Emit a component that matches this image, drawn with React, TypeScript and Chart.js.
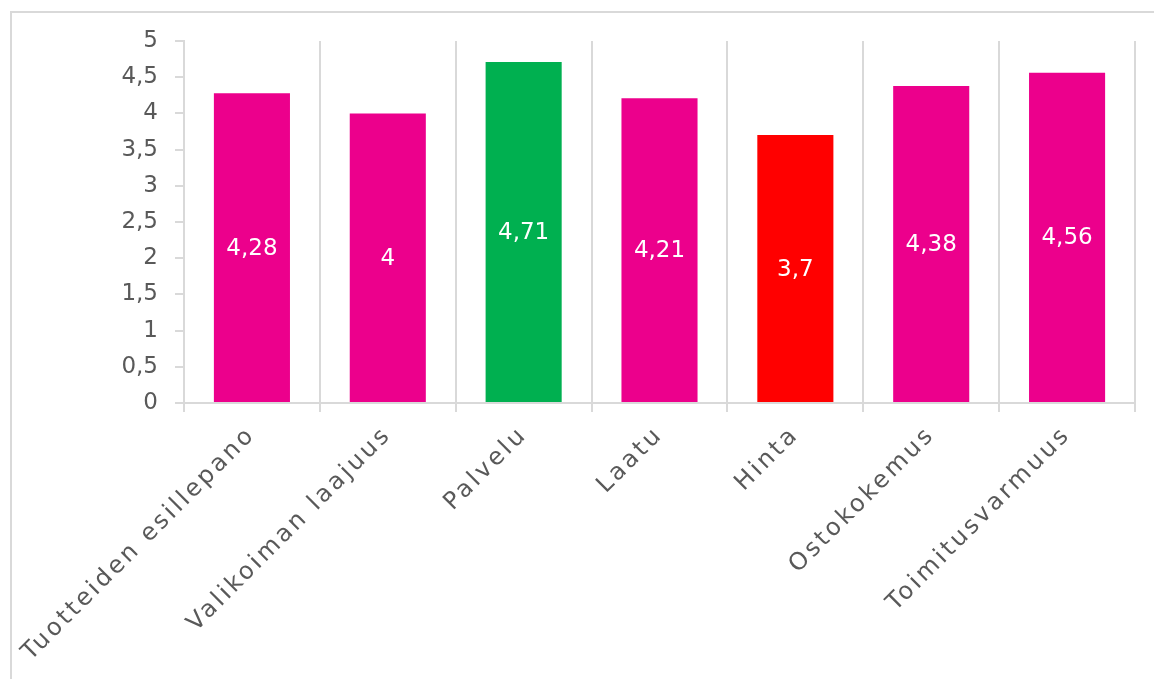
import React, { useEffect, useRef } from "react";
import { Chart, registerables } from "chart.js";

Chart.register(...registerables);

const categories = [
  "Tuotteiden esillepano",
  "Valikoiman laajuus",
  "Palvelu",
  "Laatu",
  "Hinta",
  "Ostokokemus",
  "Toimitusvarmuus",
];
const values = [4.28, 4, 4.71, 4.21, 3.7, 4.38, 4.56];
const barColors = ["#EC008C", "#EC008C", "#00B050", "#EC008C", "#FF0000", "#EC008C", "#EC008C"];
const yMin = 0;
const yMax = 5;
const yStep = 0.5;

const FONT = "DejaVu Sans";
const TEXT = "#595959";
const GRID = "#d9d9d9";

const fmt = (v: number) => String(v).replace(".", ",");

const letterSpacingPlugin = {
  id: "xLetterSpacing",
  beforeDraw(chart: any) {
    const s = chart.scales.x;
    if (s && !s.__patched) {
      const orig = s.drawLabels;
      s.drawLabels = function (area: any) {
        const ctx = this.ctx;
        ctx.save();
        (ctx as any).letterSpacing = "3px";
        orig.call(this, area);
        ctx.restore();
      };
      s.__patched = true;
    }
  },
};

const dataLabelPlugin = {
  id: "barValueLabels",
  afterDatasetsDraw(chart: any) {
    const ctx = chart.ctx;
    const meta = chart.getDatasetMeta(0);
    ctx.save();
    ctx.font = `23px "${FONT}"`;
    ctx.fillStyle = "#ffffff";
    ctx.textAlign = "center";
    ctx.textBaseline = "middle";
    meta.data.forEach((bar: any, i: number) => {
      const v = chart.data.datasets[0].data[i];
      ctx.fillText(fmt(v), bar.x, (bar.y + bar.base) / 2 + 1);
    });
    ctx.restore();
  },
};

export default function App() {
  const ref = useRef<HTMLCanvasElement>(null);
  useEffect(() => {
    if (!ref.current) return;
    const chart = new Chart(ref.current, {
      type: "bar",
      data: {
        labels: categories,
        datasets: [
          {
            data: values,
            backgroundColor: barColors,
            borderWidth: 0,
            barPercentage: 0.56,
            categoryPercentage: 1,
          },
        ],
      },
      options: {
        responsive: false,
        animation: false,
        layout: { padding: { top: 41, right: 19, bottom: 0, left: 0 } },
        plugins: { legend: { display: false }, tooltip: { enabled: false } },
        scales: {
          x: {
            offset: true,
            grid: {
              display: true,
              drawOnChartArea: true,
              offset: true,
              color: GRID,
              lineWidth: 2,
              tickLength: 9,
            },
            border: { display: true, color: GRID, width: 2 },
            ticks: {
              autoSkip: false,
              minRotation: 45,
              maxRotation: 45,
              color: TEXT,
              padding: 9,
              font: { family: FONT, size: 24 },
            },
            afterFit(scale: any) {
              scale.height = 276;
            },
          },
          y: {
            min: yMin,
            max: yMax,
            grid: {
              display: true,
              drawOnChartArea: false,
              color: GRID,
              lineWidth: 2,
              tickLength: 9,
            },
            border: { display: true, color: GRID, width: 2 },
            ticks: {
              stepSize: yStep,
              color: TEXT,
              padding: 17,
              font: { family: FONT, size: 23 },
              callback: (v: any) => fmt(Number(v)),
            },
            afterFit(scale: any) {
              scale.width = 184;
            },
          },
        },
      },
      plugins: [letterSpacingPlugin, dataLabelPlugin],
    });
    return () => chart.destroy();
  }, []);

  return (
    <div style={{ position: "absolute", left: 0, top: 0, width: 1154, height: 679, background: "#fff", overflow: "hidden" }}>
      <div
        style={{
          position: "absolute",
          left: 10,
          top: 11,
          width: 1200,
          height: 700,
          borderTop: `2px solid ${GRID}`,
          borderLeft: `2px solid ${GRID}`,
        }}
      />
      <canvas ref={ref} width={1154} height={679} style={{ position: "absolute", left: 0, top: 0, display: "block" }} />
    </div>
  );
}
